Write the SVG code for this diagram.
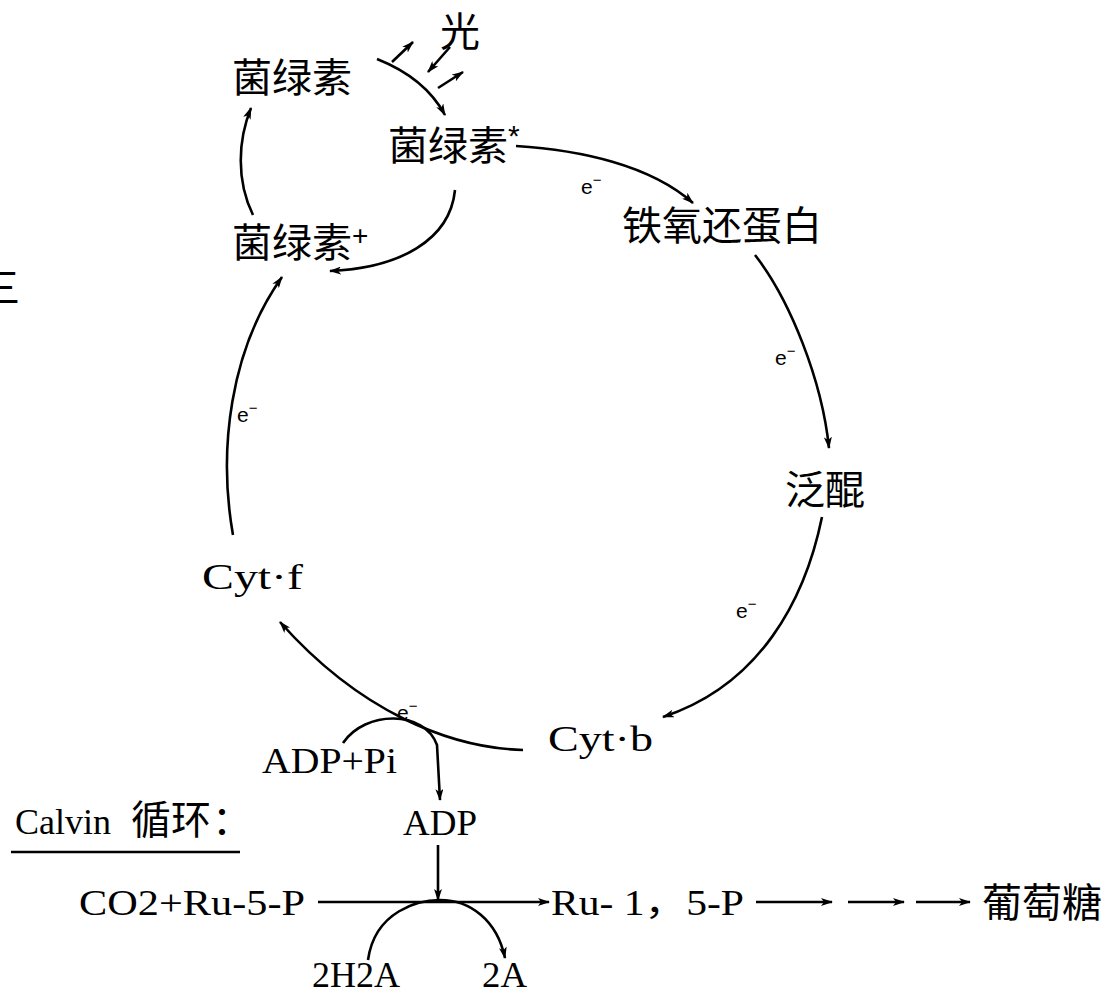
<svg xmlns="http://www.w3.org/2000/svg" width="1107" height="995" viewBox="0 0 1107 995">
<style>
.cn{font-family:"Noto Sans CJK SC","Noto Sans",sans-serif;font-size:40px;fill:#000}
.lt{font-family:"Liberation Serif","Noto Sans CJK SC",serif;font-size:36px;fill:#000}
.el{font-family:"Liberation Sans",sans-serif;font-size:21px;fill:#000}
.c{fill:none;stroke:#000;stroke-width:2.6}
</style>
<defs>
<marker id="a" viewBox="0 0 12 8" refX="11" refY="4" markerWidth="12" markerHeight="8" markerUnits="userSpaceOnUse" orient="auto">
<path d="M0,0 L12,4 L0,8 L3,4 Z" fill="#000"/>
</marker>
</defs>
<rect width="1107" height="995" fill="#fff"/>
<text class="cn" x="-20" y="302">三</text>
<g id="n-guang"><text class="cn" x="440" y="46" font-size="38">光</text></g>
<g id="n-bchl"><text class="cn" x="232" y="92">菌绿素</text></g>
<g id="n-bchl-ex"><text class="cn" x="388" y="160">菌绿素<tspan font-family="Liberation Sans" font-size="30" dy="-14">*</tspan></text></g>
<g id="n-bchl-plus"><text class="cn" x="232" y="257">菌绿素<tspan font-family="Liberation Sans" font-size="28" dy="-12">+</tspan></text></g>
<g id="n-fd"><text class="cn" x="622" y="240">铁氧还蛋白</text></g>
<g id="n-uq"><text class="cn" x="785" y="504">泛醌</text></g>
<g id="n-cytb"><text class="lt" x="548" y="751" textLength="105" lengthAdjust="spacingAndGlyphs">Cyt·b</text></g>
<g id="n-cytf"><text class="lt" x="202" y="589" textLength="101" lengthAdjust="spacingAndGlyphs">Cyt·f</text></g>
<g id="n-adppi"><text class="lt" x="262" y="773" textLength="135" lengthAdjust="spacingAndGlyphs">ADP+Pi</text></g>
<g id="n-adp"><text class="lt" x="403" y="835" textLength="74" lengthAdjust="spacingAndGlyphs">ADP</text></g>
<g id="n-calvin"><text x="15" y="834"><tspan class="lt" font-size="32">Calvin</tspan><tspan class="cn" x="131" font-size="38">循环</tspan><tspan class="cn" x="212" font-size="38">：</tspan></text>
<line x1="11" y1="852" x2="240" y2="852" stroke="#000" stroke-width="2.6"/></g>
<g id="n-co2"><text class="lt" x="79" y="915" textLength="226" lengthAdjust="spacingAndGlyphs">CO2+Ru-5-P</text></g>
<g id="n-rubp"><text class="lt" x="551" y="915" textLength="193" lengthAdjust="spacingAndGlyphs">Ru- 1，5-P</text></g>
<g id="n-glc"><text class="cn" x="982" y="917">葡萄糖</text></g>
<g id="n-2h2a"><text class="lt" x="312" y="987" font-size="34" textLength="88" lengthAdjust="spacingAndGlyphs">2H2A</text></g>
<g id="n-2a"><text class="lt" x="482" y="987" font-size="34" textLength="45" lengthAdjust="spacingAndGlyphs">2A</text></g>
<g id="labels">
<text class="el" x="581" y="194">e<tspan dy="-9" font-size="15">−</tspan></text>
<text class="el" x="775" y="365">e<tspan dy="-9" font-size="15">−</tspan></text>
<text class="el" x="736" y="618">e<tspan dy="-9" font-size="15">−</tspan></text>
<text class="el" x="397" y="720">e<tspan dy="-9" font-size="15">−</tspan></text>
<text class="el" x="237" y="422">e<tspan dy="-9" font-size="15">−</tspan></text>
</g>
<g id="connectors">
<path class="c" d="M377,59 Q425,78 445,115" marker-end="url(#a)"/>
<path class="c" d="M392,62 L413,42" marker-end="url(#a)"/>
<path class="c" d="M450,47 L428,72" marker-end="url(#a)"/>
<path class="c" d="M438,88 L463,72" marker-end="url(#a)"/>
<path class="c" d="M516,146 C580,150 650,165 693,203" marker-end="url(#a)"/>
<path class="c" d="M755,255 C790,300 822,380 829,448" marker-end="url(#a)"/>
<path class="c" d="M822,517 C805,600 760,685 663,717" marker-end="url(#a)"/>
<path class="c" d="M523,750 C450,748 360,712 280,622" marker-end="url(#a)"/>
<path class="c" d="M233,535 C218,450 230,350 282,277" marker-end="url(#a)"/>
<path class="c" d="M253,215 C236,180 238,140 251,108" marker-end="url(#a)"/>
<path class="c" d="M455,190 C450,240 400,268 330,271" marker-end="url(#a)"/>
<path class="c" d="M343,743 C365,710 425,710 437,745 L440,800" marker-end="url(#a)"/>
<path class="c" d="M438,845 L438,900" marker-end="url(#a)"/>
<path class="c" d="M318,902 L549,902" marker-end="url(#a)"/>
<path class="c" d="M368,960 C375,910 420,900 440,900 C470,900 497,920 505,958" marker-end="url(#a)"/>
<path class="c" d="M756,902 L832,902" marker-end="url(#a)"/>
<path class="c" d="M848,902 L904,902" marker-end="url(#a)"/>
<path class="c" d="M916,902 L970,902" marker-end="url(#a)"/>
</g>
</svg>
